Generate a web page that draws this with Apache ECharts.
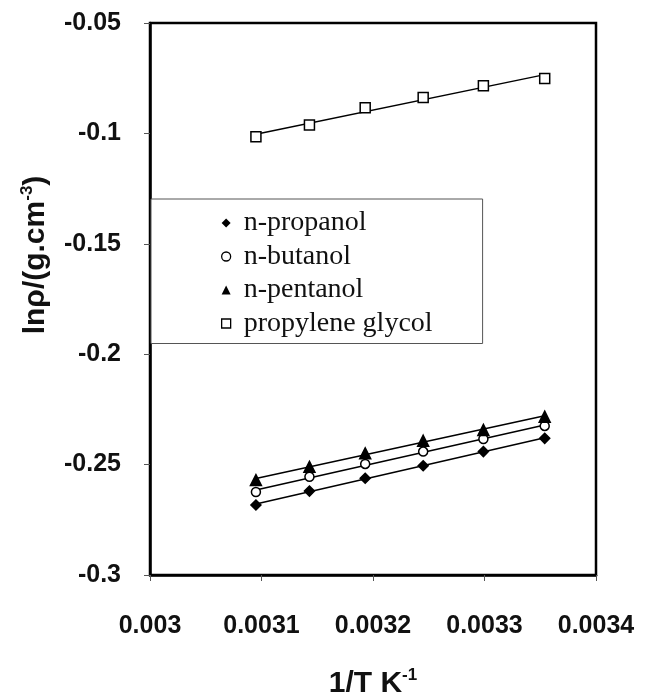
<!DOCTYPE html>
<html>
<head>
<meta charset="utf-8">
<script src="https://cdn.jsdelivr.net/npm/echarts@6/dist/echarts.min.js"></script>
<style>
  html, body { margin: 0; padding: 0; background: #fff; }
  #chart { width: 645px; height: 699px; }
</style>
</head>
<body>
<div id="chart"></div>
<script>
// Inverse temperature values (1/T, K^-1)
const invT = [0.003095, 0.003143, 0.003193, 0.003245, 0.003299, 0.003354];

// ln(density) for each liquid
const propanol = [-0.2683, -0.2620, -0.2562, -0.2505, -0.2441, -0.2381];
const butanol  = [-0.2624, -0.2555, -0.2497, -0.2441, -0.2384, -0.2325];
const pentanol = [-0.2570, -0.2510, -0.2449, -0.2392, -0.2343, -0.2283];
const glycol   = [-0.1015, -0.0962, -0.0884, -0.0837, -0.0784, -0.0751];

const seriesNames = ['n-propanol', 'n-butanol', 'n-pentanol', 'propylene glycol'];
const xTicks = [0.003, 0.0031, 0.0032, 0.0033, 0.0034];
const yTicks = [-0.05, -0.1, -0.15, -0.2, -0.25, -0.3];

// least-squares straight line through a data set, evaluated at the first and last x
function fitLine(xs, ys) {
  const n = xs.length;
  const mx = xs.reduce((a, b) => a + b, 0) / n;
  const my = ys.reduce((a, b) => a + b, 0) / n;
  let sxy = 0, sxx = 0;
  for (let i = 0; i < n; i++) {
    sxy += (xs[i] - mx) * (ys[i] - my);
    sxx += (xs[i] - mx) * (xs[i] - mx);
  }
  const b = sxy / sxx, a = my - b * mx;
  return [[xs[0], a + b * xs[0]], [xs[n - 1], a + b * xs[n - 1]]];
}

const sets = [
  { name: seriesNames[0], y: propanol, symbol: 'diamond', size: 10, fill: '#000' },
  { name: seriesNames[1], y: butanol,  symbol: 'circle',  size: 9,  fill: '#fff' },
  { name: seriesNames[2], y: pentanol, symbol: 'triangle', size: 11, fill: '#000' },
  { name: seriesNames[3], y: glycol,   symbol: 'rect',    size: 10, fill: '#fff' }
];

const series = [];
sets.forEach(s => {
  series.push({
    type: 'line',
    name: s.name + ' fit',
    data: fitLine(invT, s.y),
    showSymbol: false,
    symbol: 'none',
    lineStyle: { color: '#000', width: 1.5 },
    silent: true,
    z: 2
  });
});
sets.forEach(s => {
  series.push({
    type: 'scatter',
    name: s.name,
    data: invT.map((x, i) => [x, s.y[i]]),
    symbol: s.symbol,
    symbolSize: s.size,
    itemStyle: { color: s.fill, borderColor: '#000', borderWidth: 1.5, opacity: 1 },
    z: 3
  });
});

const boldSans = { fontFamily: 'Liberation Sans', fontWeight: 'bold', color: '#111' };

const chart = echarts.init(document.getElementById('chart'), null, { renderer: 'canvas' });
chart.setOption({
  backgroundColor: '#fff',
  animation: false,
  grid: {
    left: 150, right: 49, top: 23, bottom: 124,
    outerBoundsMode: 'none',
    containLabel: false,
    show: true, borderColor: '#000', borderWidth: 2.5, backgroundColor: 'transparent'
  },
  legend: {
    orient: 'vertical',
    left: 151, top: 199,
    padding: [10, 50, 6, 70],
    itemGap: 5.5,
    itemWidth: 9, itemHeight: 9,
    backgroundColor: '#fff',
    borderColor: '#555', borderWidth: 1,
    textStyle: { fontFamily: 'Liberation Serif', fontSize: 28, color: '#111', lineHeight: 28, padding: [0, 0, 0, 8] },
    data: [
      { name: seriesNames[0], icon: 'diamond', itemStyle: { color: '#000', borderWidth: 0 } },
      { name: seriesNames[1], icon: 'circle', itemStyle: { color: '#fff', borderColor: '#000', borderWidth: 1.3 } },
      { name: seriesNames[2], icon: 'triangle', itemStyle: { color: '#000', borderWidth: 0 } },
      { name: seriesNames[3], icon: 'rect', itemStyle: { color: '#fff', borderColor: '#000', borderWidth: 1.3 } }
    ],
    selectedMode: false
  },
  xAxis: {
    type: 'value',
    min: xTicks[0], max: xTicks[xTicks.length - 1], interval: 0.0001,
    axisLine: { show: true, onZero: false, lineStyle: { color: '#000', width: 2.5 } },
    axisTick: { show: true, length: 6, lineStyle: { color: '#555', width: 1 } },
    splitLine: { show: false },
    axisLabel: Object.assign({
      margin: 39, fontSize: 25,
      formatter: v => String(parseFloat(v.toFixed(5)))
    }, boldSans),
    name: '{m|1/T K}{s|-1}',
    nameLocation: 'middle',
    nameGap: 92,
    nameTextStyle: {
      rich: {
        m: Object.assign({ fontSize: 30 }, boldSans),
        s: Object.assign({ fontSize: 17, verticalAlign: 'top', padding: [0, 0, 16, 0] }, boldSans)
      }
    }
  },
  yAxis: {
    type: 'value',
    min: yTicks[yTicks.length - 1], max: yTicks[0], interval: 0.05,
    axisLine: { show: true, onZero: false, lineStyle: { color: '#000', width: 2.5 } },
    axisTick: { show: true, length: 6, lineStyle: { color: '#555', width: 1 } },
    splitLine: { show: false },
    axisLabel: Object.assign({
      margin: 29, fontSize: 25,
      formatter: v => String(parseFloat(v.toFixed(3)))
    }, boldSans),
    name: '{m|ln\u03c1/(g.cm}{s|-3}{m|)}',
    nameLocation: 'middle',
    nameGap: 98,
    nameRotate: 90,
    nameTextStyle: {
      padding: [0, 0, 0, 88],
      rich: {
        m: Object.assign({ fontSize: 30 }, boldSans),
        s: Object.assign({ fontSize: 17, verticalAlign: 'top', padding: [0, 0, 16, 0] }, boldSans)
      }
    }
  },
  series: series
});
</script>
</body>
</html>
